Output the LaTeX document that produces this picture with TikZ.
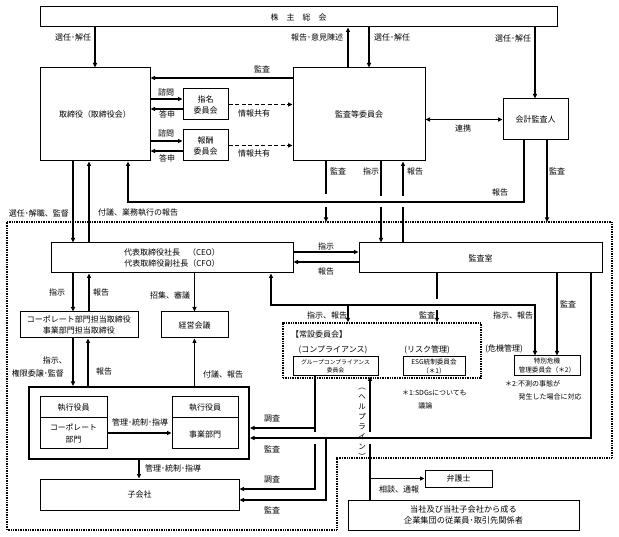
\documentclass[tikz,border=0pt]{standalone}
\usepackage{fontspec}
\setmainfont{Noto Sans CJK JP}
\usetikzlibrary{arrows.meta}
\newcommand{\myfsz}[2]{\fontsize{#1}{#2}\selectfont}
\begin{document}
\begin{tikzpicture}[x=1pt,y=-1pt,
  corners/.style args={#1,#2,#3,#4}{at={({(#1+#3)/2},{(#2+#4)/2})},
     minimum width={(#3-#1)*1pt}, minimum height={(#4-#2)*1pt}},
  box/.style={draw,line width=1pt,inner sep=0pt,align=center,font=\myfsz{8}{11}},
  bigbox/.style={box,line width=2pt},
  lab/.style={inner sep=0pt,font=\myfsz{8}{10}},
  small/.style={inner sep=0pt,font=\myfsz{7}{13},align=left},
  arr/.style={line width=1.35pt,-{Triangle[length=4.5pt,width=4pt]}},
  arrboth/.style={line width=1.35pt,{Triangle[length=4.5pt,width=4pt]}-{Triangle[length=4.5pt,width=4pt]}},
  dasharr/.style={line width=1.4pt,dash pattern=on 4pt off 2.5pt,-{Triangle[length=4.5pt,width=4pt]}},
  dotline/.style={line width=1.4pt,dash pattern=on 0.9pt off 0.8pt},
  mask/.style={fill=white,draw=none}]
\useasboundingbox (0,0) rectangle (619,537);
\fill[white] (0,0) rectangle (619,537);

% ---------------- boxes ----------------
\node[box,corners={40,7,557,27}] (gm) {株　主　総　会};
\node[box,corners={40,68,150,161}] (bod) {取締役（取締役会）};
\node[box,corners={183,89,228,120}] (nom) {指名\\委員会};
\node[box,corners={183,130,228,161}] (rem) {報酬\\委員会};
\node[box,corners={293,68,425,161}] (ac) {監査等委員会};
\node[box,corners={503,99,568,140}] (ext) {会計監査人};
\node[box,corners={51,243,293,273}] (ceo) {代表取締役社長　（CEO）\\代表取締役副社長（CFO）};
\node[box,corners={359,243,602,273}] (ia) {監査室};
\node[box,corners={20,312,138,338}] (cdir) {コーポレート部門担当取締役\\事業部門担当取締役};
\node[box,corners={161,312,228,338}] (mgm) {経営会議};
\node[bigbox,corners={29,387,249,459}] (exec) {};
\node[box,corners={40,397,107,449}] (eoL) {};
\node[box,corners={172,397,238,449}] (eoR) {};
\node[box,corners={40,479,239,510}] (sub) {子会社};
\node[draw,dotline,inner sep=0pt,corners={283,323,481,378}] (std) {};
\node[box,corners={293,357,378,376},font=\myfsz{5.8}{8.5}] (gcc) {グループコンプライアンス\\委員会};
\node[box,corners={403,357,465,376},font=\myfsz{6.6}{8.8}] (esg) {ESG統制委員会\\（＊1）};
\node[box,corners={514,356,580,376},font=\myfsz{6.6}{9}] (crisis) {特別危機\\管理委員会（＊2）};
\node[box,corners={425,470,492,487}] (law) {弁護士};
\node[box,corners={348,500,579,530},font=\myfsz{8.2}{11.5}] (emp) {当社及び当社子会社から成る\\企業集団の従業員･取引先関係者};

% inner parts of executive boxes
\draw[line width=1pt] (eoL.west |- 0,418) -- (eoL.east |- 0,418);
\draw[line width=1pt] (eoR.west |- 0,418) -- (eoR.east |- 0,418);
\node[lab] (eoLt) at (73.5,408) {執行役員};
\node[lab,align=center,font=\myfsz{7.8}{12}] (eoLb) at (73.5,434) {コーポレート\\部門};
\node[lab] (eoRt) at (205,408) {執行役員};
\node[lab] (eoRb) at (205,434) {事業部門};

% executive area dotted boundary
\draw[dotline] (7,222) -- (612,222) -- (612,458) -- (337,458) -- (337,530) -- (7,530) -- cycle;

% free ends on the boundary
\coordinate (bA) at (326,222);
\coordinate (bB) at (547,222);

% ---------------- connectors ----------------
\draw[arr] (gm.south -| 95,0) -- (bod.north -| 95,0);
\draw[arr] (ac.north -| 348,0) -- (gm.south -| 348,0);
\draw[arr] (gm.south -| 369,0) -- (ac.north -| 369,0);
\draw[arr] (gm.south -| 535,0) -- (ext.north -| 535,0);
\draw[arr] (ac.west |- 0,78) -- (bod.east |- 0,78);
\draw[arr] (bod.east |- 0,99) -- (nom.west |- 0,99);
\draw[arr] (nom.west |- 0,109) -- (bod.east |- 0,109);
\draw[arr] (bod.east |- 0,141) -- (rem.west |- 0,141);
\draw[arr] (rem.west |- 0,151) -- (bod.east |- 0,151);
\draw[dasharr] (nom.east) -- (ac.west |- nom.east);
\draw[dasharr] (rem.east) -- (ac.west |- rem.east);
\draw[arrboth] (ac.east |- ext.west) -- (ext.west);

% verticals below audit committee (with jumps)
\draw[arr] (ac.south -| bA) -- (bA);
\draw[arr] (ac.south -| 381,0) -- (ia.north -| 381,0);
\draw[arr] (ia.north -| 403,0) -- (ac.south -| 403,0);
\draw[arr] (ext.south -| bB) -- (bB);
\fill[mask] (322,194) rectangle (330,207);
\fill[mask] (377,196) rectangle (385,207);
\fill[mask] (399,196) rectangle (407,207);
\draw[arr] (ext.south -| 524,0) -- (524,202) -| (bod.south -| 128,0);

\draw[arr] (bod.south -| 73,0) -- (ceo.north -| 73,0);
\draw[arr] (ceo.north -| 89,0) -- (bod.south -| 89,0);
\draw[arr] (ceo.east |- 0,252) -- (ia.west |- 0,252);
\draw[arr] (ia.west |- 0,262) -- (ceo.east |- 0,262);
\draw[arr] (ceo.south -| 73,0) -- (cdir.north -| 73,0);
\draw[arr] (cdir.north -| 89,0) -- (ceo.south -| 89,0);
\draw[arr] (ceo.south -| mgm.north) -- (mgm.north);

% internal audit to standing committees (jump)
\draw[arr] (ia.south -| 437,0) -- (std.north -| 437,0);
\fill[mask] (433,299) rectangle (441,310);
\draw[arrboth] (ceo.south -| 271,0) -- (271,305) -- (535,305) -- (crisis.north -| 535,0);
\draw[arr] (348,305) -- (std.north -| 348,0);
\draw[arr] (ia.south -| 557,0) -- (crisis.north -| 557,0);

% investigation lines from group compliance committee
\draw[arr] (gcc.south -| 315,0) |- (exec.east |- 0,428);
\draw[arr] (315,428) |- (sub.east |- 0,489);
% helpline
\draw[arr] (emp.north -| 370,0) -- (gcc.south -| 370,0);
\fill[mask] (311,432) rectangle (319,444);
\fill[mask] (366,432) rectangle (374,444);
% audit lines from internal audit
\draw[arr] (ia.south -| 591,0) |- (exec.east |- 0,438);
\draw[arr] (326,438) |- (sub.east |- 0,500);
\draw[arr] (law.west -| 370,0) -- (law.west);

\draw[arr] (cdir.south -| 73,0) -- (exec.north -| 73,0);
\draw[arr] (exec.north -| 88,0) -- (cdir.south -| 88,0);
\draw[arr] (exec.north -| mgm.south) -- (mgm.south);
\draw[arr] (eoL.east |- 0,433) -- (eoR.west |- 0,433);
\draw[arr] (exec.south -| 139,0) -- (sub.north -| 139,0);

% ---------------- labels ----------------
\node[lab] at (73,37) {選任･解任};
\node[lab] at (317,37) {報告･意見陳述};
\node[lab] at (392,37) {選任･解任};
\node[lab] at (513,38) {選任･解任};
\node[lab] at (262,69) {監査};
\node[lab] at (166,92) {諮問};
\node[lab] at (167,114) {答申};
\node[lab] at (166,133) {諮問};
\node[lab] at (167,158) {答申};
\node[lab] at (254,113) {情報共有};
\node[lab] at (254,153) {情報共有};
\node[lab] at (463,128) {連携};
\node[lab] at (338,171) {監査};
\node[lab] at (371,171) {指示};
\node[lab] at (415,171) {報告};
\node[lab] at (500,192) {報告};
\node[lab] at (557,171) {監査};
\node[lab] at (39,213) {選任･解職、監督};
\node[lab] at (138,213) {付議、業務執行の報告};
\node[lab] at (326,246) {指示};
\node[lab] at (326,271) {報告};
\node[lab] at (57,292) {指示};
\node[lab] at (101,292) {報告};
\node[lab] at (170,295) {招集、審議};
\node[lab] at (327,315) {指示、報告};
\node[lab] at (427,315) {監査};
\node[lab] at (513,315) {指示、報告};
\node[lab] at (568,304) {監査};
\node[lab] at (319,334) {【常設委員会】};
\node[lab] at (333,350) {(コンプライアンス)};
\node[lab] at (427,350) {(リスク管理)};
\node[lab] at (504,349) {(危機管理)};
\node[small,anchor=north west] at (402,390) {＊1:SDGsについても\\\hspace*{2.3em}議論};
\node[small,anchor=north west] at (505,380) {＊2:不測の事態が\\\hspace*{1.9em}発生した場合に対応};
\node[lab,anchor=east] at (67,360) {指示、};
\node[lab] at (38,373) {権限委譲･監督};
\node[lab] at (104,371) {報告};
\node[lab] at (223,374) {付議、報告};
\node[lab] at (140,422) {管理･統制･指導};
\node[lab] at (173,468) {管理･統制･指導};
\node[lab] at (272,418) {調査};
\node[lab] at (272,449) {監査};
\node[lab] at (272,479) {調査};
\node[lab] at (272,510) {監査};
\node[lab] at (399,489) {相談、通報};
\node[lab,align=center,font=\myfsz{7.5}{10}] (hl) at (362,424) {︵\\ヘ\\ル\\プ\\ラ\\イ\\ン\\︶};
\end{tikzpicture}
\end{document}
